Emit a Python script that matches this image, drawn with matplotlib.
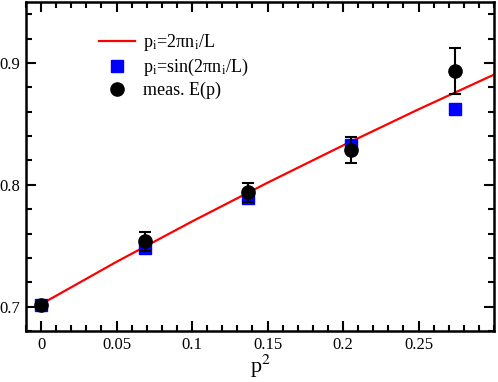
import matplotlib
matplotlib.use('Agg')
import matplotlib.pyplot as plt
from matplotlib.lines import Line2D
from matplotlib.ticker import MultipleLocator

plt.rcParams['font.family'] = ['Liberation Serif', 'DejaVu Serif']
plt.rcParams['mathtext.fontset'] = 'stix'

# p^2 values of the measured momenta
p2 = [0.0, 0.0685, 0.1371, 0.2056, 0.2742]

# measured energies with errors
e_meas = [0.7015, 0.7535, 0.7937, 0.8285, 0.8932]
e_err = [0.0025, 0.0075, 0.0080, 0.0105, 0.0190]

# lattice momentum p_i = sin(2 pi n_i / L)
e_sin = [0.7015, 0.7478, 0.7890, 0.8330, 0.8618]

# continuum dispersion curve p_i = 2 pi n_i / L
line_x = [0.0, 0.05, 0.1, 0.15, 0.2, 0.25, 0.3]
line_y = [0.7020, 0.7368, 0.7699, 0.8017, 0.8323, 0.8619, 0.8904]

fig = plt.figure(figsize=(4.98, 3.82), dpi=100)
ax = fig.add_axes([26/498, 1-331/382, 468/498, 329/382])

ax.plot(line_x, line_y, color='red', lw=1.6, zorder=2)
ax.plot(p2, e_sin, 's', color='blue', ms=8.5, zorder=3)
ax.errorbar(p2, e_meas, yerr=e_err, fmt='o', color='black', ms=9.5,
            elinewidth=1.5, capsize=4.5, capthick=1.5, zorder=4)

ax.set_xlim(-0.01, 0.3)
ax.set_ylim(0.68, 0.95)
ax.set_xticks([0, 0.05, 0.1, 0.15, 0.2, 0.25])
ax.set_xticklabels(['0', '0.05', '0.1', '0.15', '0.2', '0.25'])
ax.set_yticks([0.7, 0.8, 0.9])
ax.set_yticklabels(['0.7', '0.8', '0.9'])
ax.xaxis.set_minor_locator(MultipleLocator(0.01))
ax.yaxis.set_minor_locator(MultipleLocator(0.02))
ax.tick_params(which='both', direction='in', top=True, right=True,
               width=1.5, labelsize=12, pad=4)
ax.tick_params(which='major', length=7)
ax.tick_params(which='minor', length=4)
for s in ax.spines.values():
    s.set_linewidth(1.8)

ax.set_xlabel('p$^2$', fontsize=16, labelpad=0)

handles = [
    Line2D([], [], color='red', lw=1.6),
    Line2D([], [], ls='none', marker='s', color='blue', ms=8.5),
    Line2D([], [], ls='none', marker='o', color='black', ms=9.5),
]
labels = ['p$_\\mathrm{i}$=2πn$_\\mathrm{i}$/L',
          'p$_\\mathrm{i}$=sin(2πn$_\\mathrm{i}$/L)',
          'meas. E(p)']
ax.legend(handles, labels, loc='upper left', bbox_to_anchor=(0.14, 0.93),
          frameon=False, fontsize=13, handlelength=2.0, handletextpad=0.45,
          labelspacing=0.2, borderaxespad=0)

fig.savefig('out.png', dpi=100)
